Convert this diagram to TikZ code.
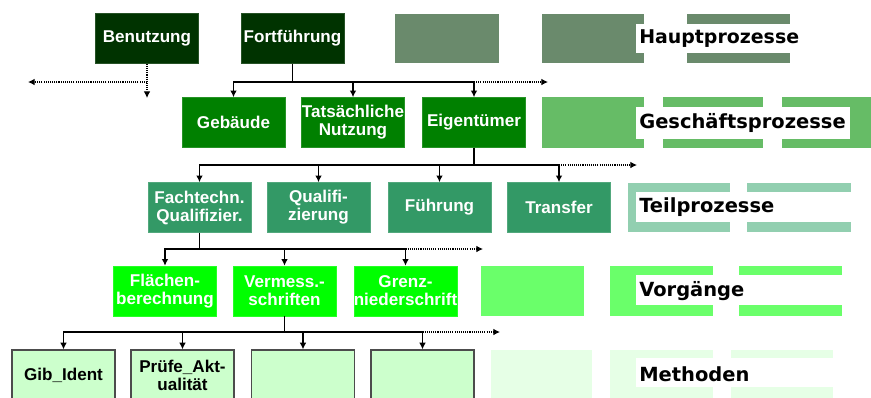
\documentclass[tikz,border=0pt]{standalone}
\usepackage{fontspec}
\setmainfont{Liberation Sans}
\newfontfamily\labfont{DejaVu Sans}
\usetikzlibrary{arrows.meta}
\definecolor{hpc}{HTML}{003300}
\definecolor{gpc}{HTML}{008000}
\definecolor{tpc}{HTML}{339966}
\definecolor{vgc}{HTML}{00FF00}
\definecolor{mtc}{HTML}{CCFFCC}
\definecolor{hpp}{HTML}{6A8A6C}
\definecolor{gpp}{HTML}{66BC66}
\definecolor{tpp}{HTML}{92CFB0}
\definecolor{vgp}{HTML}{6AFF6A}
\definecolor{mtp}{HTML}{E6FFE6}
\begin{document}
\begin{tikzpicture}[x=0.75pt,y=-0.75pt,
  pbox/.style={minimum width=77.25pt, minimum height=37.5pt, inner sep=0pt, align=center,
    font=\fontsize{12.8}{13.5}\selectfont\bfseries, text=white},
  hpbox/.style={pbox, fill=hpc, draw=hpc!85!white},
  gpbox/.style={pbox, fill=gpc, draw=gpc!85!white},
  tpbox/.style={pbox, fill=tpc, draw=tpc!85!white},
  vgbox/.style={pbox, fill=vgc, draw=vgc!85!white},
  mtbox/.style={pbox, fill=mtc, draw=black!70, line width=0.9pt, text=black},
  arr/.style={line width=1.1pt, -{Latex[length=5pt,width=5pt]}},
  dotarr/.style={line width=0.8pt, dash pattern=on 0.8pt off 0.8pt, -{Latex[length=5pt,width=5pt]}},
  lab/.style={anchor=west, inner sep=0pt, font=\labfont\fontsize{14.6}{16}\selectfont\bfseries, text=black}
]
\clip (0,0) rectangle (871,397);
\fill[white] (0,0) rectangle (871,397);

% legend pattern blocks
\fill[hpp] (395,14) rectangle (499,63);
\fill[hpp] (542,14) rectangle (644,63);
\fill[hpp] (687,14) rectangle (790,63);
\fill[white] (636,24) rectangle (802,53);
\node[lab, font=\labfont\fontsize{14.2}{16}\selectfont\bfseries] (l1) at (639,38.5) {Hauptprozesse};

\fill[gpp] (542,97) rectangle (644,148);
\fill[gpp] (663,97) rectangle (763,148);
\fill[gpp] (782,97) rectangle (871,148);
\fill[white] (636,107) rectangle (850,139);
\node[lab] (l2) at (639,123) {Geschäftsprozesse};

\fill[tpp] (628,183) rectangle (730,232);
\fill[tpp] (747,183) rectangle (851,232);
\fill[white] (636,192) rectangle (851,222);
\node[lab] (l3) at (639,207.5) {Teilprozesse};

\fill[vgp] (481,266) rectangle (584,316);
\fill[vgp] (610,266) rectangle (713,316);
\fill[vgp] (739,266) rectangle (842,316);
\fill[white] (636,275) rectangle (842,305);
\node[lab] (l4) at (639,291) {Vorgänge};

\fill[mtp] (491,350) rectangle (592,400);
\fill[mtp] (610,350) rectangle (713,400);
\fill[mtp] (731,350) rectangle (833,400);
\fill[white] (636,358) rectangle (833,387);
\node[lab] (l5) at (639,374) {Methoden};

% process boxes
\node[hpbox] (ben) at (147,38.5) {Benutzung};
\node[hpbox] (fort) at (292.5,38.5) {Fortführung};

\node[gpbox] (geb) at (233.5,122.5) {Gebäude};
\node[gpbox] (tat) at (353,122.5) {Tatsächliche\\Nutzung};
\node[gpbox] (eig) at (474,122.5) {Eigentümer};

\node[tpbox] (fach) at (199.5,207.5) {Fachtechn.\\Qualifizier.};
\node[tpbox] (qual) at (318.5,207.5) {Qualifi-\\zierung};
\node[tpbox] (fuehr) at (439.5,207.5) {Führung};
\node[tpbox] (trans) at (559,207.5) {Transfer};

\node[vgbox] (flae) at (165,291) {Flächen-\\berechnung};
\node[vgbox] (verm) at (284.5,291) {Vermess.-\\schriften};
\node[vgbox] (grenz) at (405.5,291) {Grenz-\\niederschrift};

\node[mtbox] (gib) at (63.5,375) {Gib\_Ident};
\node[mtbox] (pruef) at (182.5,375) {Prüfe\_Akt-\\ualität};
\node[mtbox] (m3) at (303,375) {};
\node[mtbox] (m4) at (422.5,375) {};

% buses
\coordinate (bus1) at (292.5,82);
\coordinate (bus2) at (474,165);
\coordinate (bus3) at (199.5,249);
\coordinate (bus4) at (284.5,332);
\coordinate (d1) at (548,82);
\coordinate (d0) at (28,82);
\coordinate (dben) at (147,98);
\coordinate (d2) at (637,165);
\coordinate (d3) at (483,249);
\coordinate (d4) at (500,332);

\draw[arr] (fort.south) -- (bus1) -| (geb.north);
\draw[arr] (fort.south) -- (bus1) -| (tat.north);
\draw[arr] (fort.south) -- (bus1) -| (eig.north);
\draw[dotarr] (eig.north |- bus1) -- (d1);
\draw[dotarr] (ben.south) -- (dben);
\draw[dotarr] (ben.south |- bus1) -- (d0);

\draw[arr] (eig.south) -- (bus2) -| (fach.north);
\draw[arr] (eig.south) -- (bus2) -| (qual.north);
\draw[arr] (eig.south) -- (bus2) -| (fuehr.north);
\draw[arr] (eig.south) -- (bus2) -| (trans.north);
\draw[dotarr] (trans.north |- bus2) -- (d2);

\draw[arr] (fach.south) -- (bus3) -| (flae.north);
\draw[arr] (fach.south) -- (bus3) -| (verm.north);
\draw[arr] (fach.south) -- (bus3) -| (grenz.north);
\draw[dotarr] (grenz.north |- bus3) -- (d3);

\draw[arr] (verm.south) -- (bus4) -| (gib.north);
\draw[arr] (verm.south) -- (bus4) -| (pruef.north);
\draw[arr] (verm.south) -- (bus4) -| (m3.north);
\draw[arr] (verm.south) -- (bus4) -| (m4.north);
\draw[dotarr] (m4.north |- bus4) -- (d4);
\end{tikzpicture}
\end{document}
